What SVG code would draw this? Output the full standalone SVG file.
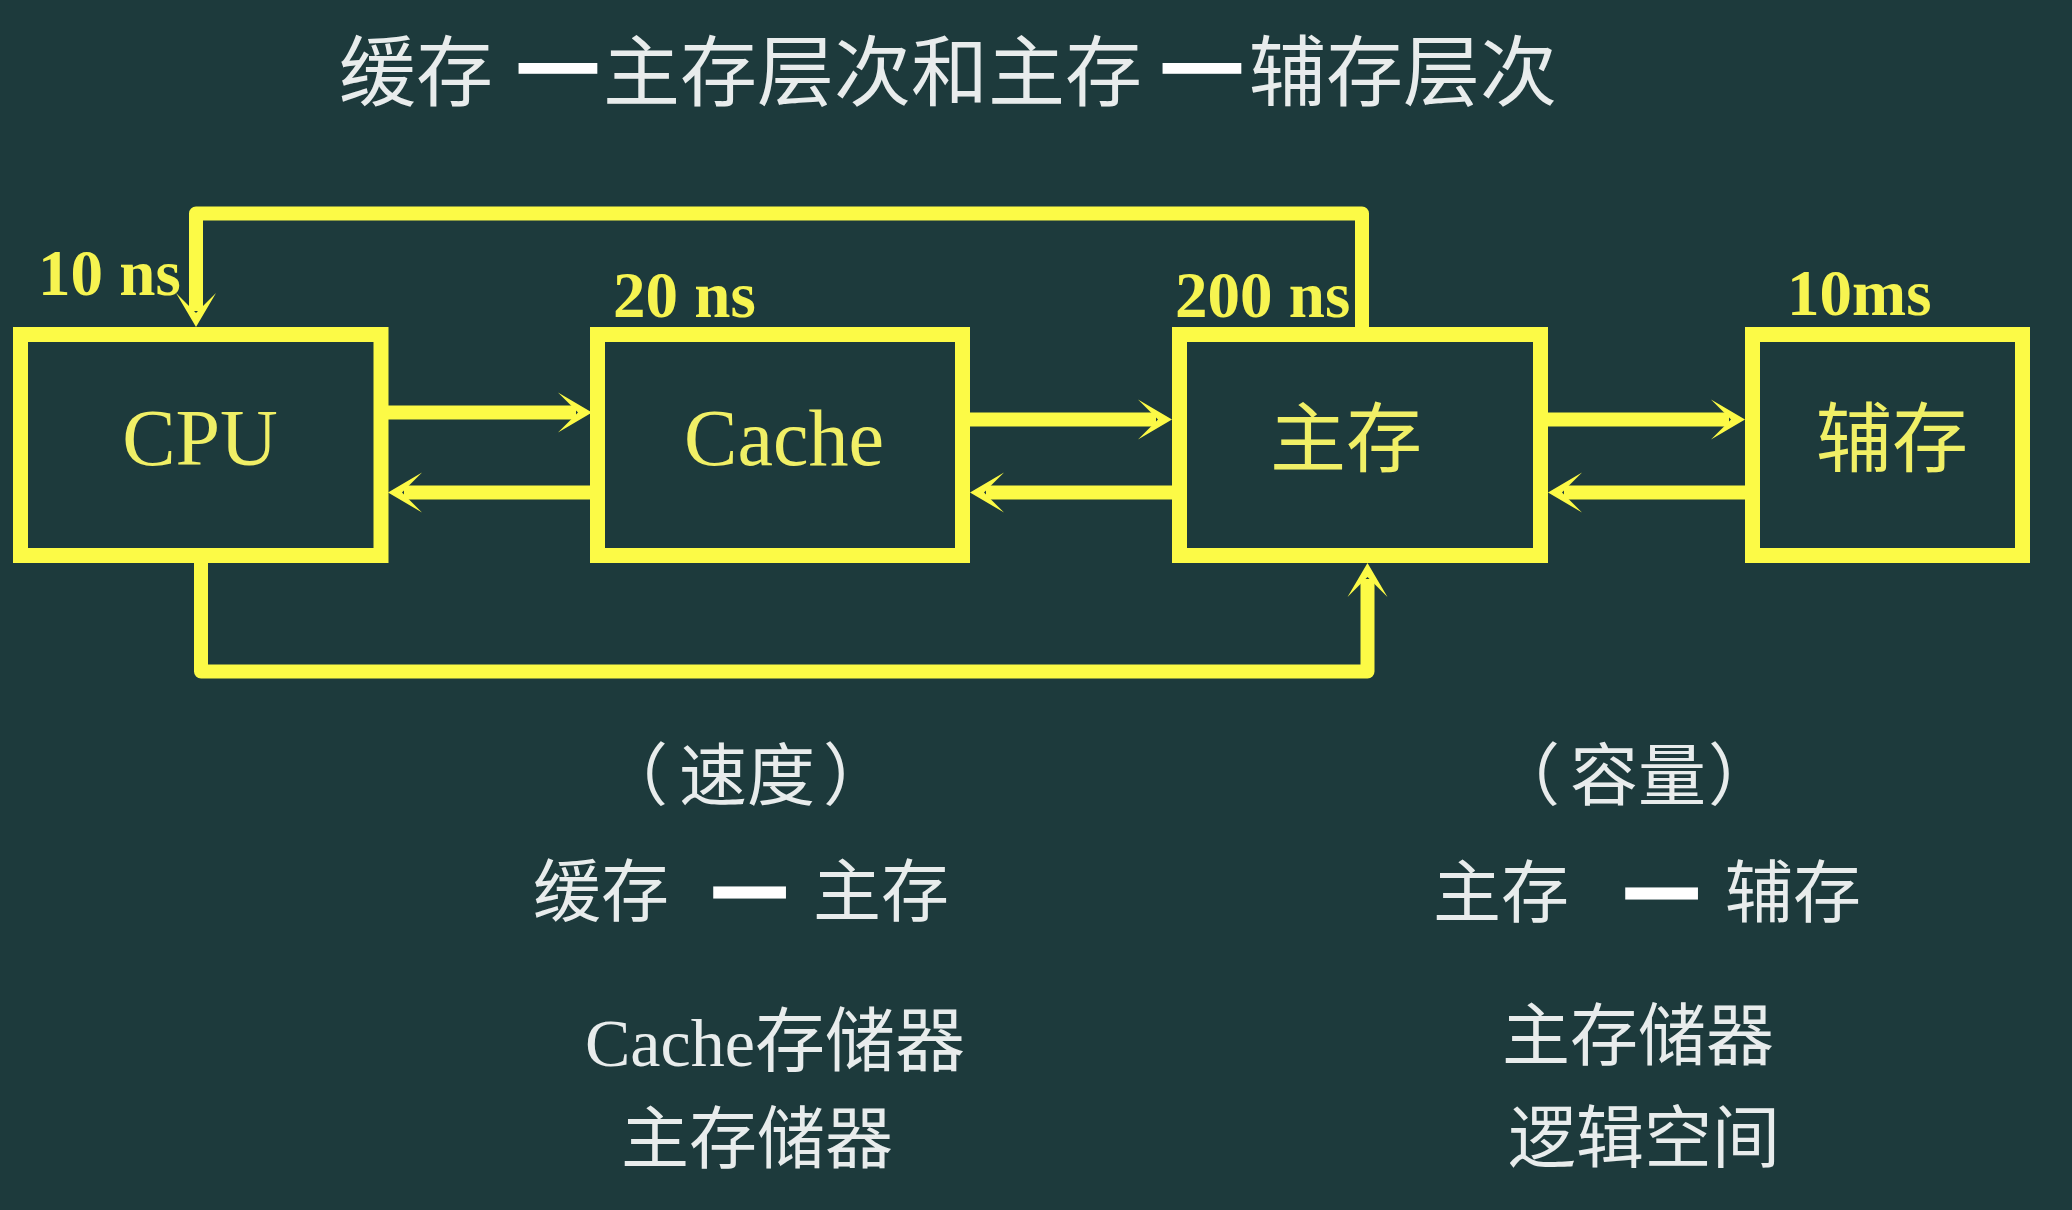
<svg xmlns="http://www.w3.org/2000/svg" width="2072" height="1210" viewBox="0 0 2072 1210">
  <style>
    .bg { fill: #1d3a3c; }
    .box { fill: none; stroke: #fcfa46; stroke-width: 15; }
    .conn { fill: none; stroke: #fcfa46; stroke-width: 14; stroke-linejoin: round; }
    .lbl { font-family: "Liberation Serif", "Times New Roman", serif; font-size: 80px; fill: #f0ef66; text-anchor: middle; }
    .lblcjk { font-family: "Noto Sans CJK SC", sans-serif; font-size: 76px; fill: #f0ef66; text-anchor: middle; }
    .lat { font-family: "Liberation Serif", "Times New Roman", serif; font-weight: bold; font-size: 65px; fill: #f6f450; }
    .title { font-family: "Noto Sans CJK SC", sans-serif; font-size: 77px; fill: #e8ecec; }
    .txt { font-family: "Noto Sans CJK SC", sans-serif; font-size: 68px; fill: #e8ecec; }
    .dash { stroke: #ffffff; stroke-width: 6; fill: #ffffff; }
    .dsm { font-size: 82px; stroke: #ffffff; stroke-width: 7; fill: #ffffff; }
    .serif { font-family: "Liberation Serif", "Times New Roman", serif; font-size: 68px; }
  </style>
  <defs>
    <marker id="ah" markerUnits="userSpaceOnUse" viewBox="-20 -25 45 50" markerWidth="45" markerHeight="50" refX="0" refY="0" orient="auto" overflow="visible">
      <path d="M16,0 L-18,-20 L2,0 L-18,20 Z" fill="#fcfa46"/>
    </marker>
  </defs>
  <rect class="bg" x="0" y="0" width="2072" height="1210"/>

  <text id="title" class="title" y="100"><tspan x="339">缓存 </tspan><tspan class="dash" x="518" y="90" textLength="80" lengthAdjust="spacingAndGlyphs">—</tspan><tspan x="603" y="100">主存层次和主存 </tspan><tspan class="dash" x="1162" y="90" textLength="80" lengthAdjust="spacingAndGlyphs">—</tspan><tspan x="1249" y="100">辅存层次</tspan></text>

  <g id="connectors">
    <path class="conn" d="M381,412.5 H576" marker-end="url(#ah)"/>
    <path class="conn" d="M597,492.5 H404" marker-end="url(#ah)"/>
    <path class="conn" d="M962,419.5 H1156" marker-end="url(#ah)"/>
    <path class="conn" d="M1179,492.5 H986" marker-end="url(#ah)"/>
    <path class="conn" d="M1540,419.5 H1729" marker-end="url(#ah)"/>
    <path class="conn" d="M1752,492.5 H1564" marker-end="url(#ah)"/>
    <path class="conn" d="M1362,334 V213.5 H196 V311" marker-end="url(#ah)"/>
    <path class="conn" d="M201,556 V671.5 H1367.5 V579" marker-end="url(#ah)"/>
  </g>

  <g id="node-cpu">
    <rect class="box" x="20.5" y="334.5" width="360.5" height="221"/>
    <text class="lbl" x="200" y="465">CPU</text>
    <text class="lat" x="38" y="295">10 ns</text>
  </g>
  <g id="node-cache">
    <rect class="box" x="597.5" y="334.5" width="365" height="221"/>
    <text class="lbl" x="784" y="465">Cache</text>
    <text class="lat" x="613" y="317">20 ns</text>
  </g>
  <g id="node-main">
    <rect class="box" x="1179.5" y="334.5" width="361" height="221"/>
    <text class="lblcjk" x="1346" y="466">主存</text>
    <text class="lat" x="1175" y="317">200 ns</text>
  </g>
  <g id="node-aux">
    <rect class="box" x="1752.5" y="334.5" width="270" height="221"/>
    <text class="lblcjk" x="1892" y="466">辅存</text>
    <text class="lat" x="1787" y="315">10ms</text>
  </g>

  <g id="notes-left">
    <text class="txt" y="800"><tspan x="600">（</tspan><tspan x="679">速度</tspan><tspan x="823">）</tspan></text>
    <text class="txt" y="916"><tspan x="533">缓存 </tspan><tspan class="dsm" x="713" y="916">— </tspan><tspan x="813" y="916">主存</tspan></text>
    <text class="txt" x="585" y="1066" style="font-size:70px"><tspan class="serif">Cache</tspan>存储器</text>
    <text class="txt" x="621" y="1163">主存储器</text>
  </g>
  <g id="notes-right">
    <text class="txt" y="800"><tspan x="1492">（</tspan><tspan x="1570">容量</tspan><tspan x="1708">）</tspan></text>
    <text class="txt" y="917"><tspan x="1433">主存 </tspan><tspan class="dsm" x="1625" y="917">— </tspan><tspan x="1725" y="917">辅存</tspan></text>
    <text class="txt" x="1502" y="1060">主存储器</text>
    <text class="txt" x="1508" y="1162">逻辑空间</text>
  </g>
</svg>
